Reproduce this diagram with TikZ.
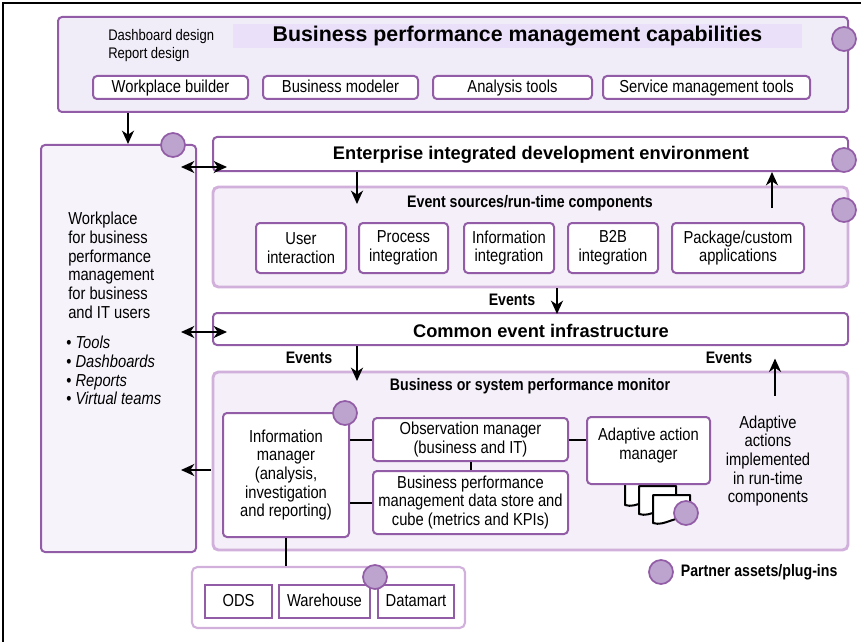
\documentclass[tikz,border=0pt]{standalone}
\usepackage{fontspec}
\setmainfont{Liberation Sans}
\newfontfamily\narrow[FakeStretch=0.85]{Liberation Sans}
\usetikzlibrary{arrows.meta,calc,fit,positioning}

\definecolor{bpmline}{RGB}{146,92,166}
\definecolor{bpmsoft}{RGB}{210,176,220}
\definecolor{bpmfill}{RGB}{240,236,248}
\definecolor{bpmpale}{RGB}{244,239,248}
\definecolor{bpmwork}{RGB}{247,243,250}
\definecolor{bpmband}{RGB}{234,224,250}
\definecolor{bpmdot}{RGB}{188,164,207}

\begin{document}
\begin{tikzpicture}[
    x=0.75pt,y=-0.75pt,
    panel/.style={draw=bpmline,line width=1.5pt,rounded corners=3pt,inner sep=0pt},
    softpanel/.style={draw=bpmsoft,line width=2.2pt,rounded corners=4pt,fill=bpmpale,inner sep=0pt},
    tool/.style={draw=bpmline,line width=1.5pt,rounded corners=3pt,fill=white,inner sep=0pt},
    repo/.style={tool,rounded corners=0pt},
    plugin/.style={circle,draw=bpmline,fill=bpmdot,line width=1.3pt,minimum size=18pt,inner sep=0pt},
    body/.style={font=\narrow\fontsize{13}{14}\selectfont,align=center,inner sep=0pt},
    inbox/.style={label={[body]center:#1}},
    inline/.style={label={[body,text height=9.4pt,text depth=2.4pt]center:#1}},
    head/.style={font=\bfseries\fontsize{13.7}{16}\selectfont,inner sep=0pt},
    subhead/.style={font=\narrow\bfseries\fontsize{12.5}{15}\selectfont,inner sep=0pt},
    arr/.style={-{Stealth[length=10pt,width=9pt,inset=3pt]},line width=1.5pt},
    darr/.style={{Stealth[length=10pt,width=9pt,inset=3pt]}-{Stealth[length=10pt,width=9pt,inset=3pt]},line width=1.5pt},
    conn/.style={line width=1.5pt},
    docu/.style={draw=black,fill=white,line width=1.5pt,line join=round}]

  \useasboundingbox (0,0) rectangle (861,642);
  \draw[line width=2pt] (3,642) -- (3,3) -- (861,3);

  % capabilities
  \node (cap) [panel,fill=bpmfill,fit={(58,17) (848,112)}] {};
  \node (captitle) [fill=bpmband,inner sep=0pt,fit={(233,24) (802,48)}] {};
  \node[font=\bfseries\fontsize{16}{18}\selectfont,inner sep=0pt] at (captitle)
    {Business performance management capabilities};
  \node[body,align=left,anchor=west,font=\narrow\fontsize{11.5}{13.5}\selectfont] at (108,46)
    {Dashboard design\\Report design};
  \node (wpb) [tool,fit={(93,76) (248,99)},inline={Workplace builder}] {};
  \node (bmod) [tool,fit={(263,76) (418,99)},inline={Business modeler}] {};
  \node (atools) [tool,fit={(433,76) (592,99)},inline={Analysis tools}] {};
  \node (smtools) [tool,fit={(603,76) (810,99)},inline={Service management tools}] {};

  % workplace column
  \node (wp) [panel,fill=bpmwork,fit={(41,145) (196,552)}] {};
  \node[body,align=left,anchor=north west] at (68,212)
    {Workplace\\for business\\performance\\management\\for business\\and IT users};
  \node[body,align=left,anchor=north west] at (66,336)
    {\textbullet\ \textit{Tools}\\\textbullet\ \textit{Dashboards}\\\textbullet\ \textit{Reports}\\\textbullet\ \textit{Virtual teams}};

  % development environment
  \node (ide) [panel,fill=white,fit={(213,137) (848,171)}] {};
  \node[head] at (541,155) {Enterprise integrated development environment};

  % event sources
  \node (evsrc) [softpanel,fit={(213,187) (848,287)}] {};
  \node[subhead] at (530,203) {Event sources/run-time components};
  \node (user) [tool,fit={(256,223) (346,273)},inbox={User\\interaction}] {};
  \node (proc) [tool,fit={(359,223) (448,273)},inbox={Process\\integration}] {};
  \node (infoint) [tool,fit={(464,223) (554,273)},inbox={Information\\integration}] {};
  \node (b2b) [tool,fit={(568,223) (658,273)},inbox={B2B\\integration}] {};
  \node (pkg) [tool,fit={(672,223) (804,273)},inbox={Package/custom\\applications}] {};

  % common event infrastructure
  \node (ceb) [panel,fill=white,fit={(213,313) (848,345)}] {};
  \node[head] at (541,331) {Common event infrastructure};

  % monitor
  \node (mon) [softpanel,fit={(213,372) (848,550)}] {};
  \node[subhead] at (530,386) {Business or system performance monitor};
  \node (info) [tool,fit={(223,413) (349,537)},
    inbox={Information\\manager\\(analysis,\\investigation\\and reporting)}] {};
  \node (obs) [tool,fit={(373,418) (568,461)},inbox={Observation manager\\(business and IT)}] {};
  \node (bpmstore) [tool,fit={(373,471) (568,534)},
    inbox={Business performance\\management data store and\\cube (metrics and KPIs)}] {};
  \foreach \dx/\dy in {0/0,14/9,28/18}
    \draw[docu,shift={(\dx,\dy)}] (625,477) -- (625,505)
      .. controls (637,509) and (648,496) .. (662,501) -- (662,477) -- cycle;
  \node (adapt) [tool,fit={(587,417) (710,484)}] {};
  \node[body] at ($(adapt)+(0,-5)$) {Adaptive action\\manager};
  \node[body] at (768,461) {Adaptive\\actions\\implemented\\in run-time\\components};

  % data sources
  \node (data) [softpanel,fill=white,line width=1.6pt,fit={(192,567) (465,628)}] {};
  \node (ods) [repo,fit={(205,585) (272,618)},inline=ODS] {};
  \node (wh) [repo,fit={(279,585) (370,618)},inline=Warehouse] {};
  \node (dm) [repo,fit={(378,585) (454,618)},inline=Datamart] {};

  % connectors
  \draw[arr] (cap.south -| 128,0) -- (wp.north -| 128,0);
  \draw[darr] ($(wp.east |- ide)+(-16,13)$) -- ($(ide.west)+(15,13)$);
  \draw[darr] ($(wp.east |- ceb)+(-16,3)$) -- ($(ceb.west)+(15,3)$);
  \draw[arr] ($(mon.west |- info)+(-1,-5)$) -- ($(wp.east |- info)+(-16,-5)$);
  \draw[arr] (ide.south -| 357,0) -- ++(0,32);
  \draw[arr] ($(ide.south -| 772,0)+(0,36)$) -- (ide.south -| 772,0);
  \draw[arr] (evsrc.south -| 557,0) -- ($(ceb.north -| 557,0)+(0,2)$);
  \draw[arr] (ceb.south -| 357,0) -- ++(0,35);
  \draw[arr] ($(mon.north -| 775,0)+(0,25)$) -- ++(0,-37);
  \node[subhead] at (512,300) {Events};
  \node[subhead] at (309,358) {Events};
  \node[subhead] at (729,358) {Events};
  \draw[conn] (info.east |- obs) -- (obs.west);
  \draw[conn] (info.east |- bpmstore) -- (bpmstore.west);
  \draw[conn] (obs.south) -- (bpmstore.north);
  \draw[conn] (obs.east) -- (obs.east -| adapt.west);
  \draw[conn] (info.south) -- (info.south |- data.north);

  % partner assets
  \node (capdot) [plugin] at (844,39) {};
  \node (wpdot) [plugin] at (173,145) {};
  \node (idedot) [plugin] at (844,160) {};
  \node (evdot) [plugin] at (844,210) {};
  \node (infodot) [plugin] at (345,413) {};
  \node (docdot) [plugin] at (686,513) {};
  \node (datadot) [plugin] at (375,577) {};
  \node (legdot) [plugin] at (661,572) {};
  \node[subhead,right=5pt of legdot] {Partner assets/plug-ins};
\end{tikzpicture}
\end{document}
